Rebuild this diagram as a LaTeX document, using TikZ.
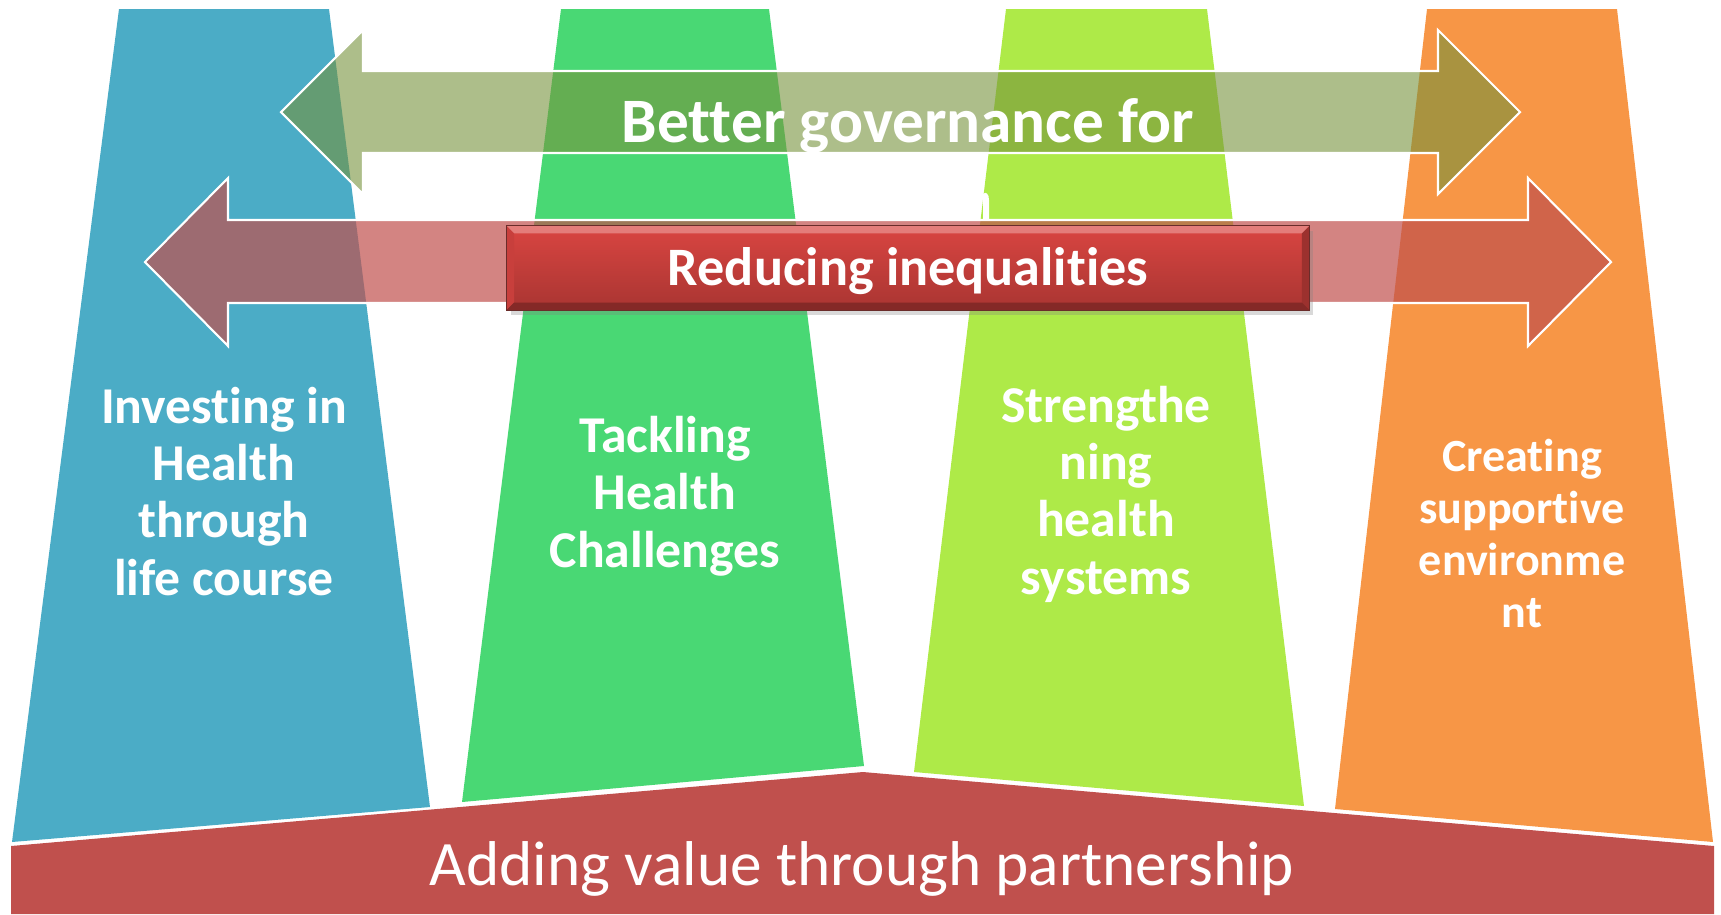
\documentclass[tikz,border=0pt]{standalone}
\usepackage{fontspec}
\setmainfont{Carlito}[Ligatures=NoCommon]
\usetikzlibrary{shadows}
\definecolor{pillarblue}{HTML}{4BACC6}
\definecolor{pillargreen}{HTML}{49D874}
\definecolor{pillarlime}{HTML}{AEEA48}
\definecolor{pillarorange}{HTML}{F79646}
\definecolor{bandred}{HTML}{C0504D}
\definecolor{govolive}{HTML}{76923C}
\definecolor{btntop}{HTML}{D94541}
\definecolor{btnbottom}{HTML}{A93532}
\tikzset{
  pillartext/.style={text=white, inner sep=0pt, anchor=base, align=center,
    font=\bfseries\fontsize{14.7}{16.3}\selectfont},
  bigarrow/.style={draw=white, line width=0.6pt, line join=miter},
  redbutton/.style={rectangle, inner sep=0pt, minimum width=8.02cm, minimum height=0.836cm,
    top color=btntop, bottom color=btnbottom,
    drop shadow={opacity=0.3, shadow xshift=1.2pt, shadow yshift=-1.4pt}},
}

\begin{document}
\begin{tikzpicture}[x=0.01cm, y=-0.01cm]
  \useasboundingbox (0,0) rectangle (1721,914);
  % the four pillars
  \fill[pillarblue]   (119,9)  -- (329,9)  -- (430,807)  -- (12,842)   -- cycle;
  \fill[pillargreen]  (561,9)  -- (769,9)  -- (864,766)  -- (462,802)  -- cycle;
  \fill[pillarlime]   (1006,9) -- (1207,9) -- (1304,806) -- (914,772)  -- cycle;
  \fill[pillarorange] (1427,9) -- (1617,9) -- (1713,842) -- (1335,809) -- cycle;
  % base
  \fill[bandred] (11,846) -- (863,772) -- (1714,846) -- (1714,914) -- (11,914) -- cycle;
  % double arrows
  \filldraw[bigarrow, fill=govolive, fill opacity=0.6]
    (281,112) -- (363,30) -- (363,71) -- (1438,71) -- (1438,30) -- (1520,112)
    -- (1438,194) -- (1438,153) -- (363,153) -- (363,194) -- cycle;
  \filldraw[bigarrow, fill=bandred, fill opacity=0.7]
    (145,262) -- (228,178) -- (228,220) -- (1528,220) -- (1528,178) -- (1611,262)
    -- (1528,346) -- (1528,303) -- (228,303) -- (228,346) -- cycle;
  \node[text=white, inner sep=0pt, anchor=base, font=\bfseries\fontsize{18}{20}\selectfont]
    (governance) at (908,142) {Better governance for};
  \fill[white] (983,219) -- (983,194) .. controls (986,191) and (989,194) .. (989,200) -- (989,219) -- cycle;
  % button
  \node[redbutton] (btn) at (908,268) {};
  \fill[btntop!70!white] (btn.north west) -- (btn.north east)
    -- ([shift={(-8,8)}]btn.north east) -- ([shift={(8,8)}]btn.north west) -- cycle;
  \fill[btntop!92!black] (btn.north west) -- ([shift={(8,8)}]btn.north west)
    -- ([shift={(8,-8)}]btn.south west) -- (btn.south west) -- cycle;
  \fill[btnbottom!92!black] (btn.north east) -- ([shift={(-8,8)}]btn.north east)
    -- ([shift={(-8,-8)}]btn.south east) -- (btn.south east) -- cycle;
  \fill[btnbottom!78!black] (btn.south west) -- ([shift={(8,-8)}]btn.south west)
    -- ([shift={(-8,-8)}]btn.south east) -- (btn.south east) -- cycle;
  \draw[bandred!55!black, line width=0.3pt] (btn.north west) rectangle (btn.south east);
  \node[text=white, inner sep=0pt, anchor=base, font=\bfseries\fontsize{15.4}{17}\selectfont]
    (reducing) at (908,285) {Reducing inequalities};
  % pillar labels (base = last line)
  \node[pillartext] (invest) at (224,595) {Investing in\\Health\\through\\life course};
  \node[pillartext] (tackle) at (665,567) {Tackling\\Health\\Challenges};
  \node[pillartext] (strengthen) at (1106,594) {Strengthe\\ning\\health\\systems};
  \node[pillartext, font=\bfseries\fontsize{13.1}{14.7}\selectfont]
    (create) at (1522,627) {Creating\\supportive\\environme\\nt};
  \node[text=white, inner sep=0pt, anchor=base, font=\fontsize{18}{20}\selectfont]
    (partner) at (862,885) {Adding value through partnership};
\end{tikzpicture}
\end{document}
